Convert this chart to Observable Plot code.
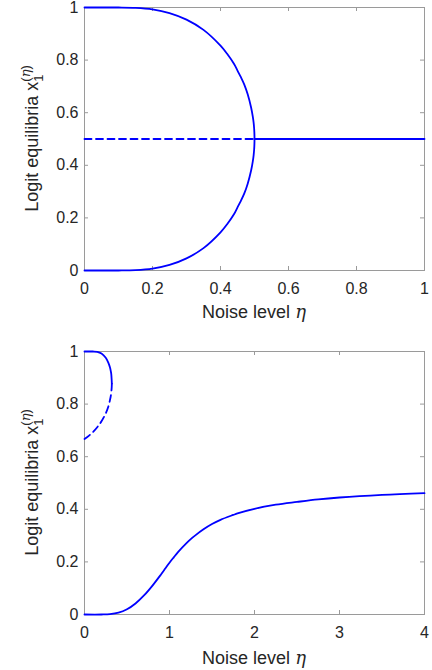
<!DOCTYPE html>
<html>
<head>
<meta charset="utf-8">
<script src="https://cdn.jsdelivr.net/npm/d3@7"></script>
<script src="https://cdn.jsdelivr.net/npm/@observablehq/plot@0.6"></script>
<style>
  html, body { margin: 0; padding: 0; background: #fff; }
  #chart { width: 432px; }
  #chart svg { display: block; overflow: visible; }
</style>
</head>
<body>
<div id="chart"></div>
<script>
// ---------- Data ----------
// Top panel: eta in [0,1]
const topTicksX = [0, 0.2, 0.4, 0.6, 0.8, 1];
const ticksY = [0, 0.2, 0.4, 0.6, 0.8, 1];

const topUpperEta = [0, 0.05, 0.1, 0.15, 0.2, 0.25, 0.3, 0.35, 0.4, 0.42, 0.44, 0.45, 0.46, 0.47, 0.48, 0.49, 0.495, 0.4975, 0.499, 0.4995, 0.49995, 0.5];
const topUpperX   = [1, 1, 1, 0.9987, 0.993, 0.979, 0.954, 0.915, 0.855, 0.823, 0.785, 0.76, 0.735, 0.707, 0.67, 0.62, 0.585, 0.561, 0.539, 0.527, 0.509, 0.5];
const topLowerX   = [0, 0, 0, 0.0013, 0.007, 0.021, 0.046, 0.085, 0.145, 0.177, 0.215, 0.24, 0.265, 0.293, 0.33, 0.38, 0.415, 0.439, 0.461, 0.473, 0.491, 0.5];
const topMidDashedEta = [0, 0.5];
const topMidDashedX   = [0.5, 0.5];
const topMidSolidEta  = [0.5, 1];
const topMidSolidX    = [0.5, 0.5];

// Bottom panel: eta in [0,4]
const botTicksX = [0, 1, 2, 3, 4];

const botUpperEta = [0, 0.05, 0.1, 0.15, 0.2, 0.25, 0.28, 0.3, 0.31, 0.315, 0.32, 0.3214];
const botUpperX   = [1, 1, 1, 0.9987, 0.992, 0.976, 0.958, 0.939, 0.924, 0.914, 0.89, 0.878];
const botDashEta  = [0.3214, 0.32, 0.31, 0.3, 0.28, 0.25, 0.2, 0.15, 0.1, 0.05, 0];
const botDashX    = [0.878, 0.863, 0.832, 0.816, 0.79, 0.765, 0.735, 0.712, 0.694, 0.679, 0.667];
const botLowerEta = [0, 0.2, 0.3, 0.4, 0.5, 0.6, 0.7, 0.8, 0.9, 0.95, 1.0, 1.05, 1.1, 1.2, 1.25, 1.3, 1.4, 1.5, 1.6, 1.75, 1.8, 2, 2.25, 2.5, 2.75, 3, 3.5, 4];
const botLowerX   = [0, 0, 0.0013, 0.0068, 0.020, 0.042, 0.0725, 0.110, 0.1524, 0.1747, 0.197, 0.2173, 0.237, 0.271, 0.2865, 0.300, 0.324, 0.344, 0.360, 0.3785, 0.3843, 0.402, 0.4174, 0.428, 0.4377, 0.4448, 0.4548, 0.4615];

// ---------- helpers ----------
const zip = (xs, ys) => xs.map((x, i) => ({eta: x, v: ys[i]}));
const FONT = "Liberation Sans, Arial, Helvetica, sans-serif";
const AXIS = "#9a9a9a";
const TXT = "#262626";
const BLUE = "#0000ff";
const LW = 1.8;
const TICK = 4;

function panel({height, marginTop, marginBottom, xDomain, xTicks, series, xLabelY, yLabelX}) {
  const marginLeft = 84, marginRight = 8, width = 432;
  const frameH = height - marginTop - marginBottom;
  const frameW = width - marginLeft - marginRight;
  const svg = Plot.plot({
    width, height, marginLeft, marginRight, marginTop, marginBottom,
    style: {fontFamily: FONT, fontSize: "16px", color: TXT, background: "transparent", overflow: "visible"},
    x: {domain: xDomain},
    y: {domain: [0, 1]},
    marks: [
      Plot.frame({stroke: AXIS, strokeWidth: 1}),
      // inward ticks on all four sides
      Plot.tickX(xTicks, {x: d => d, insetTop: frameH - TICK, stroke: AXIS}),
      Plot.tickX(xTicks, {x: d => d, insetBottom: frameH - TICK, stroke: AXIS}),
      Plot.tickY(ticksY, {y: d => d, insetRight: frameW - TICK, stroke: AXIS}),
      Plot.tickY(ticksY, {y: d => d, insetLeft: frameW - TICK, stroke: AXIS}),
      ...series.map(s => Plot.line(s.data, {x: "eta", y: "v", stroke: BLUE, strokeWidth: LW,
        strokeDasharray: s.dash ? "7,4.5" : null, curve: "catmull-rom"})),
      Plot.axisX(xTicks, {tickSize: 0, tickPadding: 12, tickFormat: d => String(d), label: null, fill: TXT, fontSize: 16}),
      Plot.axisY(ticksY, {tickSize: 0, tickPadding: 6, tickFormat: d => String(d), label: null, fill: TXT, fontSize: 16})
    ]
  });
  const s = d3.select(svg);
  // x label: "Noise level η"
  const xl = s.append("text")
    .attr("x", marginLeft + frameW / 2)
    .attr("y", xLabelY)
    .attr("text-anchor", "middle")
    .attr("font-family", FONT)
    .attr("font-size", 18)
    .attr("fill", TXT);
  xl.append("tspan").text("Noise level ");
  xl.append("tspan").attr("font-family", "DejaVu Serif, Liberation Serif, serif").attr("font-style", "italic").text("η");
  // y label: "Logit equilibria x_1^(η)"
  const cy = marginTop + frameH / 2;
  const yl = s.append("text")
    .attr("transform", `translate(${yLabelX},${cy}) rotate(-90)`)
    .attr("text-anchor", "middle")
    .attr("font-family", FONT)
    .attr("font-size", 18)
    .attr("fill", TXT);
  yl.append("tspan").text("Logit equilibria x");
  yl.append("tspan").attr("font-size", 13).attr("dy", 5).text("1");
  yl.append("tspan").attr("font-size", 13).attr("dx", -7.2).attr("dy", -13).text("(");
  yl.append("tspan").attr("font-size", 13).attr("font-family", "DejaVu Serif, Liberation Serif, serif").attr("font-style", "italic").text("η");
  yl.append("tspan").attr("font-size", 13).text(")");
  return svg;
}

const chart = document.getElementById("chart");

chart.appendChild(panel({
  height: 335, marginTop: 7, marginBottom: 65,
  xDomain: [0, 1], xTicks: topTicksX,
  series: [
    {data: zip(topUpperEta, topUpperX)},
    {data: zip(topUpperEta, topLowerX)},
    {data: zip(topMidDashedEta, topMidDashedX), dash: true},
    {data: zip(topMidSolidEta, topMidSolidX)}
  ],
  xLabelY: 318, yLabelX: 38
}));

chart.appendChild(panel({
  height: 335, marginTop: 16, marginBottom: 56,
  xDomain: [0, 4], xTicks: botTicksX,
  series: [
    {data: zip(botUpperEta, botUpperX)},
    {data: zip(botDashEta, botDashX), dash: true},
    {data: zip(botLowerEta, botLowerX)}
  ],
  xLabelY: 329, yLabelX: 38
}));
</script>
</body>
</html>
